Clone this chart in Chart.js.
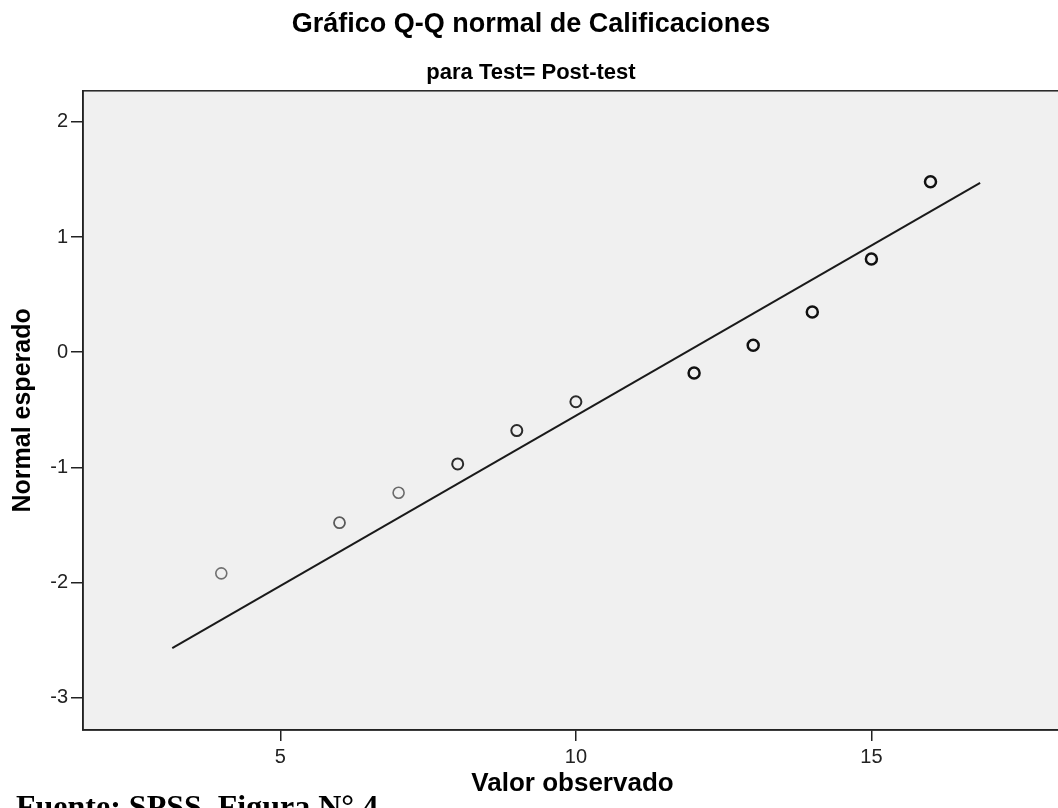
<!DOCTYPE html>
<html>
<head>
<meta charset="utf-8">
<title>Gráfico Q-Q normal de Calificaciones</title>
<script src="https://cdn.jsdelivr.net/npm/chart.js@4.4.1/dist/chart.umd.min.js"></script>
<style>
  html, body { margin:0; padding:0; background:#fff; overflow:hidden; }
  #wrap { position:relative; width:1058px; height:808px; overflow:hidden; }
  #qq { position:absolute; left:0; top:0; }
  #caption {
    position:absolute; left:16px; top:788px; line-height:32px;
    font:bold 32px "Liberation Serif", "Times New Roman", serif;
    color:#000; white-space:nowrap;
  }
</style>
</head>
<body>
<div id="wrap">
  <canvas id="qq" width="1062" height="808"></canvas>
  <div id="caption">Fuente: SPSS. Figura N° 4</div>
</div>
<script>
// --- Data ---
const observed = [4, 6, 7, 8, 9, 10, 12, 13, 14, 15, 16];
const expected = [-1.92, -1.48, -1.22, -0.97, -0.68, -0.43, -0.18, 0.06, 0.35, 0.81, 1.48];
// reference line end points
const lineX = [3.17, 16.84];
const lineY = [-2.57, 1.47];
// axes
const xTicks = [5, 10, 15];
const yTicks = [-3, -2, -1, 0, 1, 2];
const xRange = [1.66, 18.225];
const yRange = [-3.28, 2.27];

// overlapping points in SPSS come out darker / bolder
const pointInk = ['#707070', '#5a5a5a', '#6a6a6a', '#2a2a2a', '#2a2a2a', '#2a2a2a',
                  '#111', '#111', '#111', '#111', '#111'];
const pointStroke = [1.6, 1.8, 1.6, 2, 2, 2, 2.5, 2.5, 2.5, 2.5, 2.5];

const FONT = '"Liberation Sans", Arial, sans-serif';
const INK = '#222';

// --- plot background + frame ---
const plotFrame = {
  id: 'plotFrame',
  beforeDraw(c){
    const {ctx, chartArea:a} = c;
    ctx.save();
    ctx.fillStyle = '#fff'; ctx.fillRect(0, 0, c.width, c.height);
    ctx.fillStyle = '#f0f0f0'; ctx.fillRect(a.left, a.top, a.width, a.height);
    ctx.restore();
  },
  afterDraw(c){
    const {ctx, chartArea:a} = c;
    ctx.save();
    ctx.strokeStyle = INK; ctx.lineWidth = 1.5;
    ctx.strokeRect(a.left, a.top, a.width, a.height);
    ctx.restore();
  }
};

const pts = observed.map((x, i) => ({x, y: expected[i]}));
const ref = lineX.map((x, i) => ({x, y: lineY[i]}));

new Chart(document.getElementById('qq'), {
  type: 'scatter',
  data: {
    datasets: [
      {
        type: 'line', data: ref, borderColor: '#1a1a1a', borderWidth: 2,
        pointRadius: 0, fill: false, tension: 0, order: 2
      },
      {
        data: pts, pointRadius: 5.5, pointBorderWidth: pointStroke,
        pointBackgroundColor: 'rgba(0,0,0,0)', pointBorderColor: pointInk, order: 1
      }
    ]
  },
  options: {
    responsive: false, animation: false, devicePixelRatio: 1,
    layout: { padding: 0, autoPadding: false },
    plugins: {
      legend: { display: false },
      tooltip: { enabled: false },
      title: {
        display: true, text: 'Gráfico Q-Q normal de Calificaciones', color: '#000',
        font: { family: FONT, size: 27, weight: 'bold' },
        padding: { top: 8, bottom: 19.2 }
      },
      subtitle: {
        display: true, text: 'para Test= Post-test', color: '#000',
        font: { family: FONT, size: 22, weight: 'bold' },
        padding: { top: 0, bottom: 4.8 }
      }
    },
    scales: {
      x: {
        type: 'linear', min: xRange[0], max: xRange[1],
        afterBuildTicks: s => { s.ticks = xTicks.map(v => ({value: v})); },
        afterFit: s => { s.height = 78; },
        grid: { drawOnChartArea: false, drawTicks: true, tickLength: 11, color: INK, lineWidth: 1.5 },
        border: { display: true, color: INK, width: 1.5 },
        ticks: { color: INK, padding: 4, font: { family: FONT, size: 20 } },
        title: {
          display: true, text: 'Valor observado', color: '#000',
          font: { family: FONT, size: 26, weight: 'bold' },
          padding: { top: 0, bottom: 8.7 }
        }
      },
      y: {
        type: 'linear', min: yRange[0], max: yRange[1],
        afterBuildTicks: s => { s.ticks = yTicks.map(v => ({value: v})); },
        afterFit: s => { s.width = 83; },
        grid: { drawOnChartArea: false, drawTicks: true, tickLength: 12, color: INK, lineWidth: 1.5 },
        border: { display: true, color: INK, width: 1.5 },
        ticks: { color: INK, padding: 3, font: { family: FONT, size: 20 } },
        title: {
          display: true, text: 'Normal esperado', color: '#000',
          font: { family: FONT, size: 25, weight: 'bold' },
          padding: { top: 8.5, bottom: 0 }
        }
      }
    }
  },
  plugins: [plotFrame]
});
</script>
</body>
</html>
